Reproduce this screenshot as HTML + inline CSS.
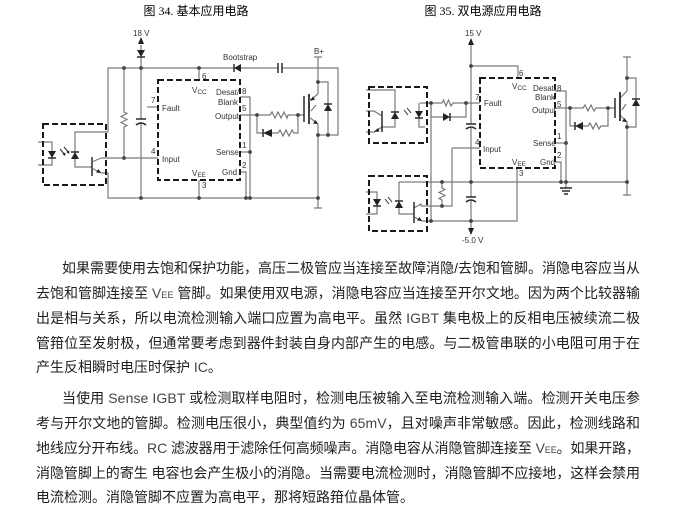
<!DOCTYPE html>
<html><head><meta charset="utf-8">
<style>
html,body{margin:0;padding:0;background:#fff;}
body{width:675px;height:514px;position:relative;overflow:hidden;}
svg{position:absolute;left:0;top:0;}
.w{stroke:#7a7a7a;stroke-width:1.2;fill:none;}
.k{stroke:#2a2a2a;stroke-width:1.5;fill:none;}
.box{stroke:#1a1a1a;stroke-width:2;fill:none;stroke-dasharray:6,3;}
.f{fill:#222;stroke:none;}
.d{fill:#444;}
.t{font-family:"Liberation Sans",sans-serif;font-size:8px;fill:#333;}
.ti{font-family:"Liberation Serif","Noto Sans CJK SC",serif;font-size:12px;fill:#000;}
.p{font-family:"Liberation Sans","Noto Sans CJK SC",sans-serif;font-size:14px;fill:#1e1e1e;}
.l{fill:#444;}
</style></head><body>
<svg width="675" height="514" viewBox="0 0 675 514">
<!-- Titles -->
<text class="ti" x="196" y="15" text-anchor="middle">图 34. 基本应用电路</text>
<text class="ti" x="483" y="15" text-anchor="middle">图 35. 双电源应用电路</text>

<!-- ===== LEFT CIRCUIT ===== -->
<g class="w">
<path d="M108,132 V68 H234"/>
<path d="M241,68 H278"/>
<path d="M282,68 H338 V135 H318"/>
<path d="M141,45 V50"/>
<path d="M141,57 V119"/>
<path d="M141,123 V198"/>
<path d="M124,68 V112 l3,1.5 l-6,3 l6,3 l-6,3 l6,3 l-3,1.5 V158"/>
<path d="M199,68 V80"/>
<path d="M147,107 H158"/>
<path d="M101,158 H158"/>
<path d="M240,97 H250 V198"/>
<path d="M240,115 H270 l2,-3 l3,6 l3,-6 l3,6 l3,-6 l3,6 l1,-3 H304"/>
<path d="M257,115 V133 H263"/>
<path d="M272,133 H278 l2,-3 l3,6 l3,-6 l3,6 l3,-6 l2,3 H298 V115"/>
<path d="M240,152 H250"/>
<path d="M240,172 H246 V198"/>
<path d="M199,180 V198"/>
<path d="M101,173 H108 V198 H318"/>
<path d="M318,94 V57 M314,57 H322"/>
<path d="M318,124 V208 M314,208 H322"/>
<path d="M318,82 H328 V135"/>
<path d="M38,142 H52 V151"/>
<path d="M52,158 V165 H38"/>
<path d="M75,152 V132 H108"/>
<path d="M75,159 V167 H92"/>
</g>
<path class="k" d="M278,63 V73 M282,63 V73"/>
<path class="k" d="M136,119 H146 M136,125 Q141,121 146,125"/>
<path class="f" d="M141,37 L138,44 L144,44Z"/>
<path class="f" d="M137,50 L145,50 L141,57Z"/><path class="k" d="M137,57 H145"/>
<path class="f" d="M234,68 L241,64 L241,72Z"/><path class="k" d="M234,64 V72"/>
<path class="f" d="M263,133 L272,129 L272,137Z"/><path class="k" d="M263,129 V137"/>
<path class="f" d="M324,111 L332,111 L328,104Z"/><path class="k" d="M324,104 H332"/>
<path class="k" d="M304,96 V122"/>
<path class="k" d="M309,94 V124" style="stroke-width:1.8"/>
<path class="w" d="M309,101 L318,94 M309,117 L318,124 M311,111 L316,105"/>
<path class="f" d="M310,101 L315,99.5 L313,96.5Z"/>
<path class="f" d="M318,124 L313,123.5 L315.5,120Z"/>
<rect class="box" x="158" y="80" width="82" height="100"/>
<rect class="box" x="43" y="124" width="63" height="61"/>
<path class="f" d="M48,151 L56,151 L52,158Z"/><path class="k" d="M48,158 H56"/>
<path class="f" d="M71,159 L79,159 L75,152Z"/><path class="k" d="M71,152 H79"/>
<path class="k" d="M92,157 V176"/>
<path class="w" d="M92,162 L101,158 M92,168 L101,173"/>
<path class="f" d="M101,173 L96,172.5 L98.5,169Z"/>
<path class="k" style="stroke-width:1" d="M60,149 L65,155 M64,147 L69,153"/>
<path class="f" d="M65,156 L62.5,154 L65.5,152.5Z M69,154 L66.5,152 L69.5,150.5Z"/>
<g class="d">
<circle cx="124" cy="68" r="1.9"/><circle cx="141" cy="68" r="1.9"/><circle cx="199" cy="68" r="1.9"/>
<circle cx="124" cy="158" r="1.9"/><circle cx="250" cy="152" r="1.9"/><circle cx="257" cy="115" r="1.9"/>
<circle cx="298" cy="115" r="1.9"/><circle cx="318" cy="82" r="1.9"/><circle cx="328" cy="135" r="1.9"/>
<circle cx="318" cy="135" r="1.9"/><circle cx="141" cy="198" r="1.9"/><circle cx="199" cy="198" r="1.9"/>
<circle cx="246" cy="198" r="1.9"/><circle cx="250" cy="198" r="1.9"/><circle cx="318" cy="198" r="1.9"/>
</g>
<g class="t">
<text x="133" y="36">18 V</text>
<text x="223" y="60">Bootstrap</text>
<text x="314" y="54">B+</text>
<text x="202" y="79">6</text>
<text x="192" y="93">V<tspan font-size="6.5" dy="1">CC</tspan></text>
<text x="216" y="95">Desat/</text>
<text x="218" y="105">Blank</text>
<text x="242" y="94">8</text>
<text x="242" y="111">5</text>
<text x="215" y="119">Output</text>
<text x="151" y="103">7</text>
<text x="162" y="111">Fault</text>
<text x="151" y="154">4</text>
<text x="162" y="162">Input</text>
<text x="242" y="148">1</text>
<text x="216" y="155">Sense</text>
<text x="242" y="168">2</text>
<text x="222" y="175">Gnd</text>
<text x="192" y="176">V<tspan font-size="6.5" dy="1">EE</tspan></text>
<text x="202" y="188">3</text>
</g>

<!-- ===== RIGHT CIRCUIT ===== -->
<g class="w">
<path d="M471,45 V124"/>
<path d="M471,128 V197"/>
<path d="M471,201 V228"/>
<path d="M471,66 H518 V78"/>
<path d="M555,91 H566 V182"/>
<path d="M555,143 H566"/>
<path d="M555,162 H561 V182"/>
<path d="M566,182 V188"/>
<path d="M555,108 H583 l2,-3 l3,6 l3,-6 l3,6 l2,-3 H615"/>
<path d="M570,108 V126 H575"/>
<path d="M583,126 H588 l2,-3 l3,6 l3,-6 l3,6 l2,-3 H608 V108"/>
<path d="M620,98 L627,91 V57 M623,57 H631"/>
<path d="M620,115 L627,122 V195 M623,195 H631"/>
<path d="M627,78 H636 V127 H627"/>
<path d="M420,103 H442 l1.5,-3 l2.5,6 l2.5,-6 l2.5,6 l2,-3 H480"/>
<path d="M431,103 V117 H443"/>
<path d="M450,117 H466 V103"/>
<path d="M452,148 H480"/>
<path d="M452,148 V206 H421"/>
<path d="M442,182 V188 l3,1.5 l-6,3 l6,3 l-6,3 l3,1.5 V206"/>
<path d="M399,182 H627"/>
<path d="M431,103 V221"/>
<path d="M422,221 H517 V168"/>
<path d="M366,90 H395 V112"/>
<path d="M395,119 V127 H382"/>
<path d="M382,116 L374,111 H366"/>
<path d="M382,127 L374,132 H366"/>
<path d="M419,111 V103"/>
<path d="M419,118 V127 H425"/>
<path d="M366,192 H377 V199"/>
<path d="M377,206 V214 H366"/>
<path d="M399,201 V182"/>
<path d="M399,208 V214 H414"/>
<path d="M414,208 L421,204 V206"/>
<path d="M414,217 L422,221"/>
</g>
<path class="k" d="M466,124 H476 M466,129 Q471,125 476,129"/>
<path class="k" d="M466,197 H476 M466,202 Q471,198 476,202"/>
<path class="k" d="M560,188 H572 M562,191 H570 M564,194 H568"/>
<path class="f" d="M471,38 L468,45 L474,45Z"/>
<path class="f" d="M468,228 L474,228 L471,235Z"/>
<path class="f" d="M575,126 L583,122 L583,130Z"/><path class="k" d="M575,122 V130"/>
<path class="f" d="M632,106 L640,106 L636,99Z"/><path class="k" d="M632,99 H640"/>
<path class="f" d="M443,113 L443,121 L450,117Z"/><path class="k" d="M450,113 V121"/>
<path class="k" d="M615,98 V118"/>
<path class="k" d="M620,92 V121" style="stroke-width:1.8"/>
<path class="w" d="M622,110 L626,104"/>
<path class="f" d="M627,122 L622,121.5 L624.5,118Z"/>
<rect class="box" x="480" y="78" width="75" height="90"/>
<rect class="box" x="369" y="87" width="58" height="56"/>
<path class="f" d="M391,119 L399,119 L395,112Z"/><path class="k" d="M391,112 H399"/>
<path class="f" d="M415,111 L423,111 L419,118Z"/><path class="k" d="M415,118 H423"/>
<path class="k" d="M382,111 V132"/>
<path class="f" d="M374,132 L378,128 L379.5,131.5Z"/>
<path class="k" style="stroke-width:1" d="M404,110 L408,115 M407,108 L411,113"/>
<rect class="box" x="369" y="176" width="58" height="55"/>
<path class="f" d="M373,199 L381,199 L377,206Z"/><path class="k" d="M373,206 H381"/>
<path class="f" d="M395,208 L403,208 L399,201Z"/><path class="k" d="M395,201 H403"/>
<path class="k" d="M414,202 V223"/>
<path class="f" d="M422,221 L417,220.5 L419.5,217Z"/>
<path class="k" style="stroke-width:1" d="M385,199 L389,204 M388,197 L392,202"/>
<g class="d">
<circle cx="471" cy="66" r="1.9"/><circle cx="431" cy="103" r="1.9"/><circle cx="466" cy="103" r="1.9"/>
<circle cx="442" cy="182" r="1.9"/><circle cx="471" cy="182" r="1.9"/><circle cx="442" cy="206" r="1.9"/>
<circle cx="471" cy="221" r="1.9"/><circle cx="431" cy="221" r="1.9"/><circle cx="561" cy="182" r="1.9"/>
<circle cx="566" cy="182" r="1.9"/><circle cx="627" cy="182" r="1.9"/><circle cx="566" cy="143" r="1.9"/>
<circle cx="570" cy="108" r="1.9"/><circle cx="608" cy="108" r="1.9"/><circle cx="627" cy="78" r="1.9"/>
<circle cx="627" cy="127" r="1.9"/>
</g>
<g class="t">
<text x="465" y="36">15 V</text>
<text x="462" y="243">-5.0 V</text>
<text x="519" y="76">6</text>
<text x="512" y="89">V<tspan font-size="6.5" dy="1">CC</tspan></text>
<text x="533" y="91">Desat/</text>
<text x="535" y="100">Blank</text>
<text x="557" y="91">8</text>
<text x="557" y="107">5</text>
<text x="532" y="113">Output</text>
<text x="475" y="100">7</text>
<text x="484" y="106">Fault</text>
<text x="475" y="145">4</text>
<text x="483" y="152">Input</text>
<text x="557" y="139">1</text>
<text x="533" y="146">Sense</text>
<text x="557" y="158">2</text>
<text x="540" y="165">Gnd</text>
<text x="512" y="165">V<tspan font-size="6.5" dy="1">EE</tspan></text>
<text x="519" y="176">3</text>
</g>

<!-- ===== PARAGRAPH 1 ===== -->
<g class="p">
<text x="62" y="273" textLength="578" lengthAdjust="spacing">如果需要使用去饱和保护功能，高压二极管应当连接至故障消隐/去饱和管脚。消隐电容应当从</text>
<text x="36" y="298" textLength="604" lengthAdjust="spacing">去饱和管脚连接至 <tspan class="l">V</tspan><tspan class="l" font-size="9">EE</tspan> 管脚。如果使用双电源，消隐电容应当连接至开尔文地。因为两个比较器输</text>
<text x="36" y="323" textLength="604" lengthAdjust="spacing">出是相与关系，所以电流检测输入端口应置为高电平。虽然 <tspan class="l">IGBT</tspan> 集电极上的反相电压被续流二极</text>
<text x="36" y="348" textLength="604" lengthAdjust="spacing">管箝位至发射极，但通常要考虑到器件封装自身内部产生的电感。与二极管串联的小电阻可用于在</text>
<text x="36" y="372">产生反相瞬时电压时保护 <tspan class="l">IC</tspan>。</text>

<!-- ===== PARAGRAPH 2 ===== -->
<text x="62" y="403" textLength="578" lengthAdjust="spacing">当使用 <tspan class="l">Sense IGBT</tspan> 或检测取样电阻时，检测电压被输入至电流检测输入端。检测开关电压参</text>
<text x="36" y="428" textLength="604" lengthAdjust="spacing">考与开尔文地的管脚。检测电压很小，典型值约为 <tspan class="l">65mV</tspan>，且对噪声非常敏感。因此，检测线路和</text>
<text x="36" y="453" textLength="604" lengthAdjust="spacing">地线应分开布线。<tspan class="l">RC</tspan> 滤波器用于滤除任何高频噪声。消隐电容从消隐管脚连接至 <tspan class="l">V</tspan><tspan class="l" font-size="9">EE</tspan>。如果开路，</text>
<text x="36" y="478" textLength="604" lengthAdjust="spacing">消隐管脚上的寄生 电容也会产生极小的消隐。当需要电流检测时，消隐管脚不应接地，这样会禁用</text>
<text x="36" y="502">电流检测。消隐管脚不应置为高电平，那将短路箝位晶体管。</text>
</g>
</svg>
</body></html>
